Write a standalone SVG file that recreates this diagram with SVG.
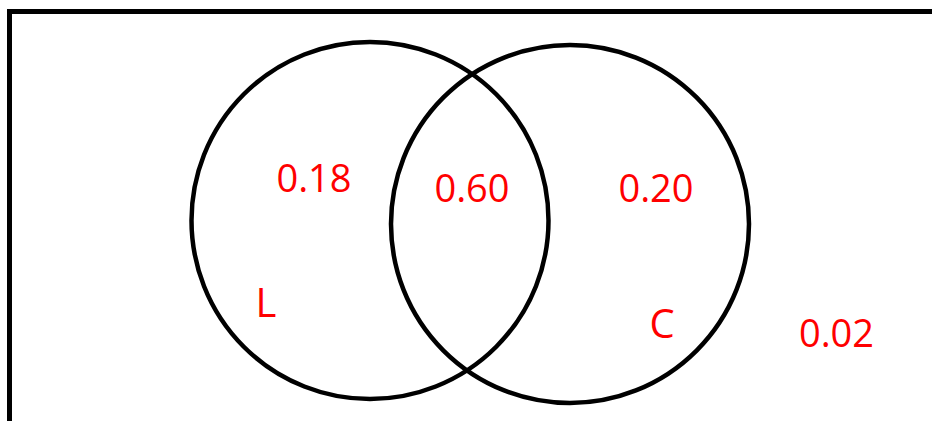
<svg xmlns="http://www.w3.org/2000/svg" width="932" height="421" viewBox="0 0 932 421">
<style>
.frame{fill:none;stroke:#000;stroke-width:5}
.set{fill:none;stroke:#000;stroke-width:4.5}
.val{font-family:"Open Sans","Liberation Sans",sans-serif;font-size:38px;fill:#ff0000;text-anchor:middle}
.lbl{font-family:"Open Sans","Liberation Sans",sans-serif;font-size:40px;fill:#ff0000;text-anchor:middle}
</style>
<rect width="932" height="421" fill="#fff"/>
<g id="frame"><path class="frame" d="M9.5,421 V11.5 H932"/></g>
<g id="set-L">
<circle class="set" cx="370" cy="220.5" r="178.5"/>
<text class="lbl" x="266" y="317">L</text>
</g>
<g id="set-C">
<circle class="set" cx="570" cy="224" r="179"/>
<text class="lbl" x="662" y="338">C</text>
</g>
<g id="values">
<text class="val" x="314" y="192">0.18</text>
<text class="val" x="472" y="202">0.60</text>
<text class="val" x="656" y="202">0.20</text>
<text class="val" x="836.5" y="347">0.02</text>
</g>
</svg>
